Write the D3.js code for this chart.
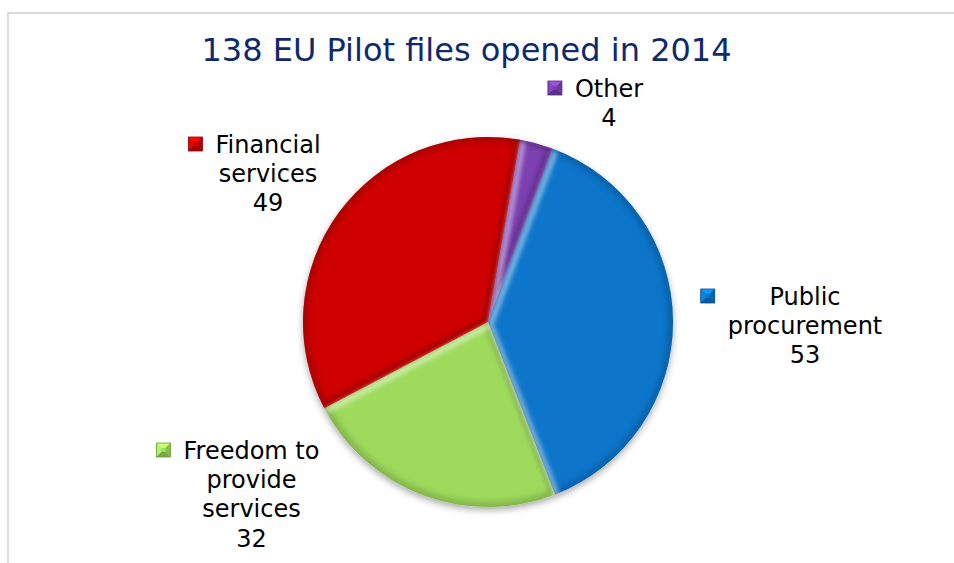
<!DOCTYPE html>
<html><head><meta charset="utf-8">
<script src="https://cdn.jsdelivr.net/npm/d3@7"></script>
<style>
html,body{margin:0;padding:0;background:#fff;overflow:hidden;}
svg{display:block;font-family:"DejaVu Sans",Verdana,sans-serif;}
</style>
</head><body>
<svg id="c" width="954" height="563"></svg>
<script>
// ---- data ----
const title = "138 EU Pilot files opened in 2014";
const categories = ["Public procurement", "Freedom to provide services", "Financial services", "Other"];
const values = [53, 32, 49, 4];
const labelLines = [["Public", "procurement"], ["Freedom to", "provide", "services"], ["Financial", "services"], ["Other"]];
const colors = ["#0a76cb", "#9edb5b", "#cf0505", "#7b3fb1"];

// ---- layout ----
const W = 954, H = 563;
const cx = 488, cy = 322, R = 185;
const startDeg = 20.5;
// label block: text center x offset, first line center y offset (relative to pie centre)
const labelOffsets = [[317, -26], [-236.5, 128], [-220, -178], [121, -234]];
const fontSize = 24, lineH = 29.3;

const svg = d3.select("#c");
const defs = svg.append("defs");

// frame
svg.append("path").attr("d", `M8,${H} V13 H${W}`).attr("fill", "none")
  .attr("stroke", "#d9d9d9").attr("stroke-width", 2);

// title
svg.append("text").attr("x", 466.5).attr("y", 61).attr("text-anchor", "middle")
  .attr("font-size", 32).attr("fill", "#0e2a6c").text(title);

// filters
const blur = defs.append("filter").attr("id", "blur").attr("x", "-20%").attr("y", "-20%").attr("width", "140%").attr("height", "140%");
blur.append("feGaussianBlur").attr("stdDeviation", 2.2);
const blur2 = defs.append("filter").attr("id", "blur2").attr("x", "-20%").attr("y", "-20%").attr("width", "140%").attr("height", "140%");
blur2.append("feGaussianBlur").attr("stdDeviation", 3.5);
const shadow = defs.append("filter").attr("id", "shadow").attr("x", "-20%").attr("y", "-20%").attr("width", "140%").attr("height", "150%");
shadow.append("feDropShadow").attr("dx", 0).attr("dy", 3).attr("stdDeviation", 3.5)
  .attr("flood-color", "#000").attr("flood-opacity", 0.35);

const pie = d3.pie().sort(null).value(d => d)
  .startAngle(startDeg * Math.PI / 180)
  .endAngle(startDeg * Math.PI / 180 + 2 * Math.PI);
const arcs = pie(values);
const arc = d3.arc().innerRadius(0).outerRadius(R);
const outerArc = d3.arc().innerRadius(R).outerRadius(R);

const g = svg.append("g").attr("transform", `translate(${cx},${cy})`);
const base = g.append("g").attr("filter", "url(#shadow)");
base.selectAll("path").data(arcs).join("path")
  .attr("d", arc).attr("fill", (d, i) => colors[i]);

const pt = a => [R * Math.sin(a), -R * Math.cos(a)];

// bevel per slice
arcs.forEach((d, i) => {
  const id = "clip" + i;
  defs.append("clipPath").attr("id", id).append("path")
    .attr("d", arc(d)).attr("transform", `translate(${cx},${cy})`);
  const bg = svg.append("g").attr("clip-path", `url(#${id})`);
  const inner = bg.append("g").attr("transform", `translate(${cx},${cy})`);
  const c = d3.color(colors[i]);
  // dark rim along the outer arc
  inner.append("path").attr("d", outerArc(d)).attr("fill", "none")
    .attr("stroke", c.darker(1.4)).attr("stroke-width", 9)
    .attr("stroke-opacity", 0.5).attr("filter", "url(#blur2)");
  // radial edges: emboss (light top-left, dark bottom-right)
  const [x0, y0] = pt(d.startAngle), [x1, y1] = pt(d.endAngle);
  const radial = `M${x0},${y0} L0,0 L${x1},${y1}`;
  inner.append("path").attr("d", radial).attr("fill", "none")
    .attr("stroke", c.darker(1.5)).attr("stroke-width", 6)
    .attr("stroke-opacity", 0.5).attr("filter", "url(#blur)")
    .attr("transform", "translate(-2.5,-2.5)");
  inner.append("path").attr("d", radial).attr("fill", "none")
    .attr("stroke", "#ffffff").attr("stroke-width", 6)
    .attr("stroke-opacity", 0.45).attr("filter", "url(#blur)")
    .attr("transform", "translate(2.5,2.5)");
});

// labels
arcs.forEach((d, i) => {
  const [ox, oy] = labelOffsets[i];
  const tx = cx + ox, ty = cy + oy;
  const lg = svg.append("g");
  const t = lg.append("text").attr("font-size", fontSize).attr("fill", "#000").attr("text-anchor", "middle");
  const lines = labelLines[i].concat([String(values[i])]);
  lines.forEach((ln, k) => {
    t.append("tspan").attr("x", tx).attr("y", ty + k * lineH + 8.6).text(ln);
  });
  let maxW = 0;
  t.selectAll("tspan").each(function () { maxW = Math.max(maxW, this.getComputedTextLength()); });
  const mx = tx - maxW / 2 - 27, my = ty - 7, s = 14;
  const c = d3.color(colors[i]);
  const mg = lg.append("g").attr("transform", `translate(${mx},${my})`);
  mg.append("rect").attr("width", s).attr("height", s).attr("fill", colors[i]);
  const m = s / 2, q = 4;
  mg.append("path").attr("d", `M0,0 L${s},0 L${m + q / 2},${m - q / 2} L${m - q / 2},${m - q / 2} Z`).attr("fill", c.brighter(0.7));
  mg.append("path").attr("d", `M0,0 L0,${s} L${m - q / 2},${m + q / 2} L${m - q / 2},${m - q / 2} Z`).attr("fill", c.brighter(0.3));
  mg.append("path").attr("d", `M0,${s} L${s},${s} L${m + q / 2},${m + q / 2} L${m - q / 2},${m + q / 2} Z`).attr("fill", c.darker(0.8));
  mg.append("path").attr("d", `M${s},0 L${s},${s} L${m + q / 2},${m + q / 2} L${m + q / 2},${m - q / 2} Z`).attr("fill", c.darker(0.4));
  mg.append("rect").attr("width", s).attr("height", s).attr("fill", "none")
    .attr("stroke", c.darker(1)).attr("stroke-width", 0.8);
});
</script>
</body></html>
